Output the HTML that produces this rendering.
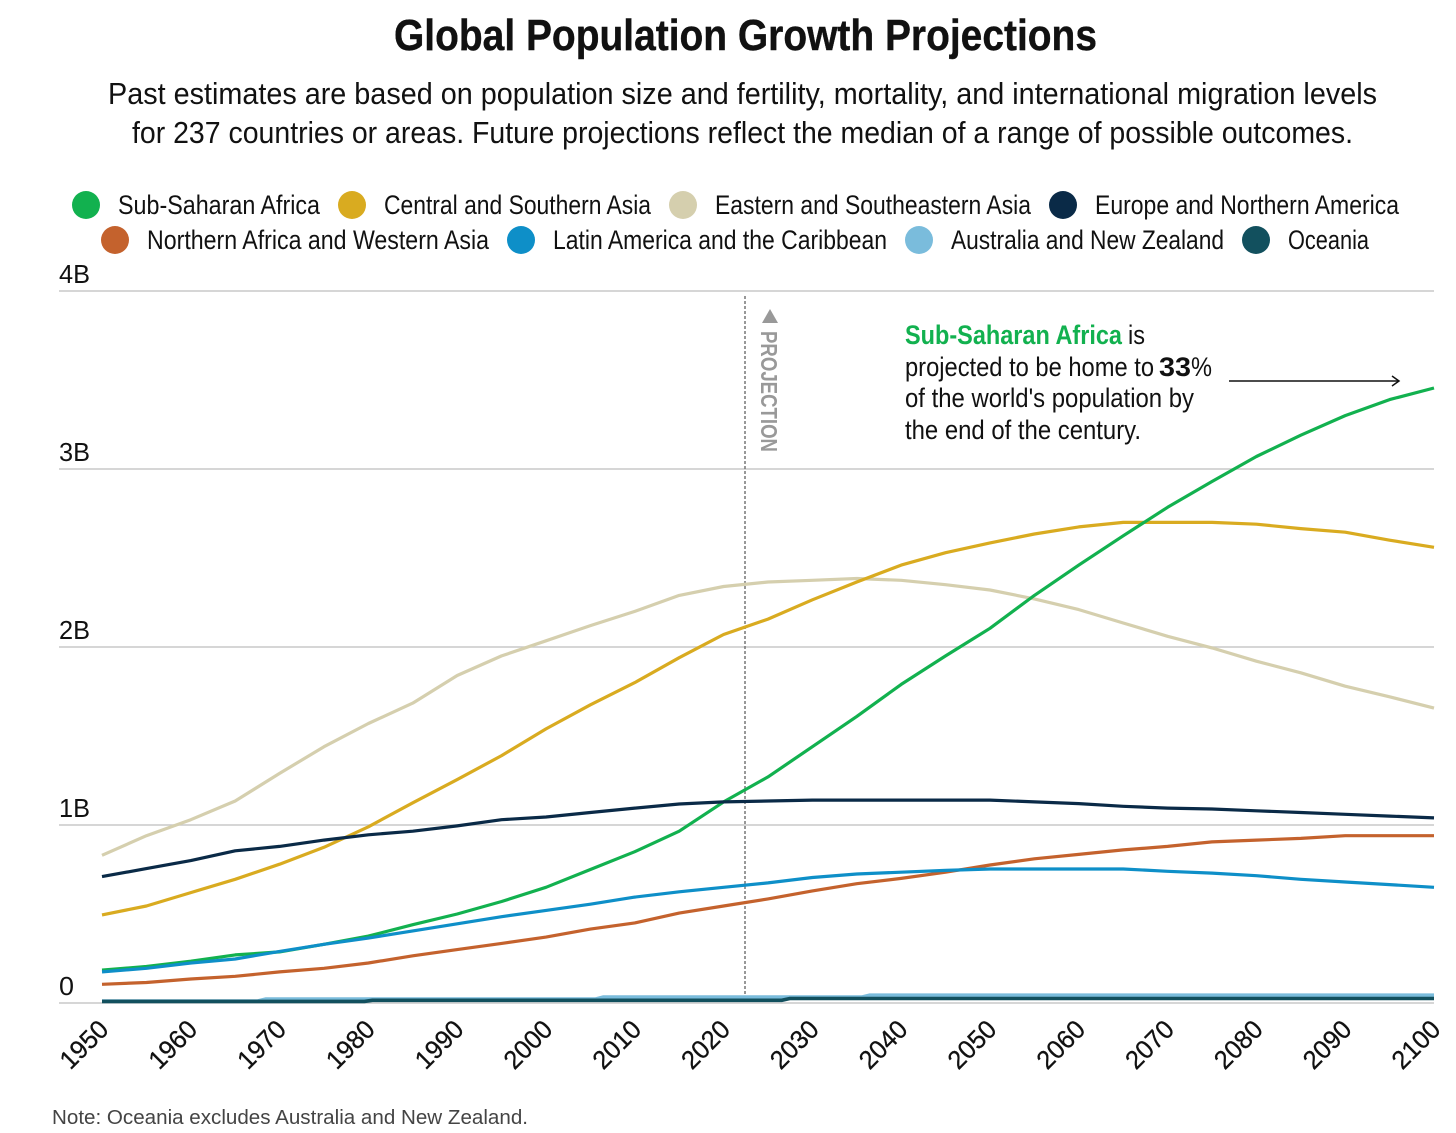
<!DOCTYPE html>
<html lang="en">
<head>
<meta charset="utf-8">
<title>Global Population Growth Projections</title>
<style>
html,body{margin:0;padding:0;background:#fff;}
svg{display:block;}
text{font-family:"Liberation Sans Narrow","Liberation Sans",sans-serif;fill:#111;}
.wide{font-family:"Liberation Sans",sans-serif;}
.legend-label{font-size:27px;}
.note-text{font-size:27px;}
</style>
</head>
<body>
<svg id="chart" xmlns="http://www.w3.org/2000/svg" width="1456" height="1133" viewBox="0 0 1456 1133">
  <rect width="1456" height="1133" fill="#fff"/>
  <text x="394" y="50" font-size="44" font-weight="700" textLength="703" lengthAdjust="spacingAndGlyphs" style="stroke:#111;stroke-width:.4">Global Population Growth Projections</text>
  <text x="108" y="104" font-size="31" textLength="1269" lengthAdjust="spacingAndGlyphs">Past estimates are based on population size and fertility, mortality, and international migration levels</text>
  <text x="132" y="143" font-size="31" textLength="1221" lengthAdjust="spacingAndGlyphs">for 237 countries or areas. Future projections reflect the median of a range of possible outcomes.</text>

  <g>
    <g><circle cx="86" cy="205" r="14" fill="#12b14f"/><text class="legend-label" x="118" y="214" textLength="202" lengthAdjust="spacingAndGlyphs">Sub-Saharan Africa</text></g>
    <g><circle cx="352" cy="205" r="14" fill="#d9ab20"/><text class="legend-label" x="384" y="214" textLength="267" lengthAdjust="spacingAndGlyphs">Central and Southern Asia</text></g>
    <g><circle cx="683" cy="205" r="14" fill="#d5cfae"/><text class="legend-label" x="715" y="214" textLength="316" lengthAdjust="spacingAndGlyphs">Eastern and Southeastern Asia</text></g>
    <g><circle cx="1063" cy="205" r="14" fill="#0a2a47"/><text class="legend-label" x="1095" y="214" textLength="304" lengthAdjust="spacingAndGlyphs">Europe and Northern America</text></g>
    <g><circle cx="115" cy="240" r="14" fill="#c4622d"/><text class="legend-label" x="147" y="249" textLength="342" lengthAdjust="spacingAndGlyphs">Northern Africa and Western Asia</text></g>
    <g><circle cx="521" cy="240" r="14" fill="#0e8fc8"/><text class="legend-label" x="553" y="249" textLength="334" lengthAdjust="spacingAndGlyphs">Latin America and the Caribbean</text></g>
    <g><circle cx="919" cy="240" r="14" fill="#7abcdc"/><text class="legend-label" x="951" y="249" textLength="273" lengthAdjust="spacingAndGlyphs">Australia and New Zealand</text></g>
    <g><circle cx="1256" cy="240" r="14" fill="#12505e"/><text class="legend-label" x="1288" y="249" textLength="81" lengthAdjust="spacingAndGlyphs">Oceania</text></g>
  </g>

  <g id="grid"></g>
  <g id="y-labels"></g>
  <g id="x-labels"></g>

  <line x1="745" y1="296" x2="745" y2="996" stroke="#777" stroke-width="1.5" stroke-dasharray="3 2"/>
  <polygon points="770,309 762,323 778,323" fill="#999"/>
  <text class="wide" transform="translate(761,331) rotate(90)" font-size="23" font-weight="700" style="fill:#999" textLength="121" lengthAdjust="spacingAndGlyphs">PROJECTION</text>

  <g id="series"></g>

  <g>
    <text class="note-text" x="905" y="344" font-weight="700" style="fill:#12b14f" textLength="217" lengthAdjust="spacingAndGlyphs">Sub-Saharan Africa</text>
    <text class="note-text" x="1128" y="344" textLength="17" lengthAdjust="spacingAndGlyphs">is</text>
    <text class="note-text" x="905" y="376" textLength="249" lengthAdjust="spacingAndGlyphs">projected to be home to</text>
    <text class="note-text" x="1159" y="376" font-weight="700" textLength="32" lengthAdjust="spacingAndGlyphs">33</text>
    <text class="note-text" x="1191" y="376" textLength="21" lengthAdjust="spacingAndGlyphs">%</text>
    <text class="note-text" x="905" y="407" textLength="289" lengthAdjust="spacingAndGlyphs">of the world's population by</text>
    <text class="note-text" x="905" y="439" textLength="236" lengthAdjust="spacingAndGlyphs">the end of the century.</text>
    <line x1="1229" y1="381" x2="1398" y2="381" stroke="#111" stroke-width="1.5"/>
    <polyline points="1392,376 1399,381 1392,386" fill="none" stroke="#111" stroke-width="1.5"/>
  </g>

  <text class="wide" x="52" y="1124" font-size="20" style="fill:#444" textLength="476" lengthAdjust="spacingAndGlyphs">Note: Oceania excludes Australia and New Zealand.</text>
</svg>
<script>
// Years for the six main series (5-year samples).
const years = [1950,1955,1960,1965,1970,1975,1980,1985,1990,1995,2000,2005,2010,2015,2020,2025,2030,2035,2040,2045,2050,2055,2060,2065,2070,2075,2080,2085,2090,2095,2100];
// Population, billions.
const subSaharanAfrica = [0.185,0.205,0.235,0.27,0.287,0.33,0.376,0.44,0.50,0.57,0.65,0.75,0.85,0.965,1.13,1.27,1.44,1.61,1.79,1.95,2.105,2.29,2.46,2.625,2.785,2.93,3.07,3.19,3.3,3.39,3.455];
const centralSouthernAsia = [0.495,0.545,0.62,0.695,0.78,0.875,0.99,1.125,1.255,1.39,1.54,1.675,1.80,1.94,2.07,2.157,2.265,2.365,2.46,2.53,2.585,2.635,2.675,2.70,2.70,2.70,2.69,2.665,2.645,2.60,2.56];
const easternSoutheasternAsia = [0.83,0.94,1.03,1.135,1.29,1.44,1.57,1.685,1.84,1.95,2.035,2.12,2.20,2.29,2.34,2.365,2.375,2.385,2.375,2.35,2.32,2.27,2.21,2.135,2.06,1.995,1.92,1.855,1.78,1.72,1.657];
const europeNorthernAmerica = [0.71,0.755,0.80,0.855,0.88,0.915,0.945,0.965,0.995,1.03,1.045,1.07,1.095,1.118,1.13,1.135,1.14,1.14,1.14,1.14,1.14,1.13,1.12,1.105,1.095,1.09,1.08,1.07,1.06,1.05,1.04];
const northernAfricaWesternAsia = [0.105,0.115,0.135,0.15,0.175,0.195,0.225,0.265,0.30,0.335,0.37,0.415,0.45,0.505,0.545,0.585,0.63,0.67,0.70,0.735,0.775,0.81,0.835,0.86,0.88,0.905,0.915,0.925,0.94,0.94,0.94];
const latinAmericaCaribbean = [0.175,0.195,0.225,0.247,0.29,0.33,0.365,0.405,0.445,0.485,0.52,0.555,0.595,0.625,0.65,0.675,0.705,0.725,0.735,0.745,0.753,0.753,0.753,0.753,0.74,0.73,0.715,0.695,0.68,0.665,0.65];
// The two small series move in visible steps.
const australiaYears = [1950,1968,2006,2036,2100];
const australiaValues = [0.011,0.022,0.033,0.044,0.044];
const oceaniaYears = [1950,1980,2027,2100];
const oceaniaValues = [0.009,0.015,0.025,0.025];
// Axis ticks.
const yTickValues = [0,1,2,3,4];
const yTickLabels = ['0','1B','2B','3B','4B'];
const xTickYears = [1950,1960,1970,1980,1990,2000,2010,2020,2030,2040,2050,2060,2070,2080,2090,2100];

const NS = 'http://www.w3.org/2000/svg';
const xScale = function (year) { return 102 + (year - 1950) * (1332 / 150); };
const yScale = function (v) { return 1003 - v * 178; };

function make(tag, parent, attrs) {
  const el = document.createElementNS(NS, tag);
  Object.keys(attrs).forEach(function (k) { el.setAttribute(k, attrs[k]); });
  parent.appendChild(el);
  return el;
}

const gridGroup = document.getElementById('grid');
const yLabelGroup = document.getElementById('y-labels');
yTickValues.forEach(function (v, i) {
  const line = make('line', gridGroup, { x1: 59, x2: 1434, y1: yScale(v), y2: yScale(v), stroke: '#c9c9c9', 'stroke-width': 1.5 });
  
  
  const label = make('text', yLabelGroup, { x: 59, y: yScale(v) - 8, 'font-size': 26, class: 'wide' });
  
  
  label.setAttribute('textLength', yTickLabels[i].length === 1 ? 15 : 31);
  label.setAttribute('lengthAdjust', 'spacingAndGlyphs');
  label.textContent = yTickLabels[i];
});

const xLabelGroup = document.getElementById('x-labels');
xTickYears.forEach(function (year) {
  const px = xScale(year) + 8;
  const label = make('text', xLabelGroup, { x: px, y: 1031, 'font-size': 26, class: 'wide', 'text-anchor': 'end', transform: 'rotate(-45 ' + px + ' 1031)', style: 'stroke:#111;stroke-width:.3' });
  
  
  label.setAttribute('textLength', 56);
  label.setAttribute('lengthAdjust', 'spacingAndGlyphs');
  label.textContent = String(year);
});

const seriesGroup = document.getElementById('series');
function drawLine(values, color, name) {
  const d = values.map(function (v, i) { return (i ? 'L' : 'M') + xScale(years[i]).toFixed(1) + ' ' + yScale(v).toFixed(1); }).join(' ');
  const path = make('path', seriesGroup, { d: d, fill: 'none', stroke: color, 'stroke-width': 3.2, 'stroke-linejoin': 'round' });
  
  
}
function drawSteps(xs, values, color, name) {
  let d = 'M' + xScale(xs[0]).toFixed(1) + ' ' + yScale(values[0]).toFixed(1);
  for (let i = 1; i < xs.length; i++) {
    d += ' L' + (xScale(xs[i]) - 4).toFixed(1) + ' ' + yScale(values[i - 1]).toFixed(1);
    d += ' L' + (xScale(xs[i]) + 4 > 1434 ? 1434 : xScale(xs[i]) + 4).toFixed(1) + ' ' + yScale(values[i]).toFixed(1);
  }
  const path = make('path', seriesGroup, { d: d, fill: 'none', stroke: color, 'stroke-width': 3.6 });
  
  
}
drawLine(easternSoutheasternAsia, '#d5cfae', 'line-eastern-southeastern-asia');
drawLine(centralSouthernAsia, '#d9ab20', 'line-central-southern-asia');
drawLine(subSaharanAfrica, '#12b14f', 'line-sub-saharan-africa');
drawLine(northernAfricaWesternAsia, '#c4622d', 'line-northern-africa-western-asia');
drawLine(latinAmericaCaribbean, '#0e8fc8', 'line-latin-america-caribbean');
drawLine(europeNorthernAmerica, '#0a2a47', 'line-europe-northern-america');
drawSteps(australiaYears, australiaValues, '#7abcdc', 'line-australia-new-zealand');
drawSteps(oceaniaYears, oceaniaValues, '#12505e', 'line-oceania');
</script>
</body>
</html>
